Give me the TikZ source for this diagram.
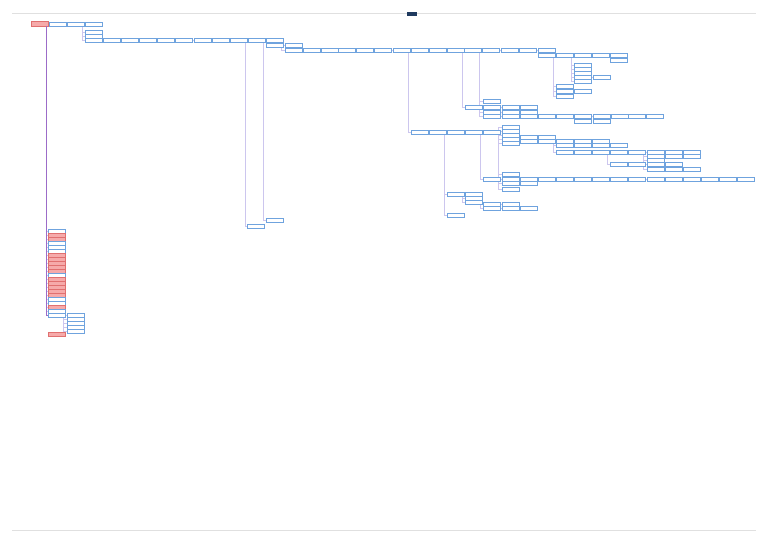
\documentclass[tikz,border=0pt]{standalone}
\usetikzlibrary{backgrounds}
\definecolor{boxblue}{HTML}{6FA3DE}
\definecolor{boxred}{HTML}{E07070}
\definecolor{fillred}{HTML}{F6AAAA}
\definecolor{edgecol}{HTML}{CCC6EE}
\definecolor{trunkcol}{HTML}{9C6CC8}
\definecolor{navy}{HTML}{1F3A5F}
\tikzset{
  bx/.style={draw=boxblue, fill=white, line width=0.75pt, minimum width=17pt, minimum height=4pt, inner sep=0pt, outer sep=0pt, anchor=north west},
  bxred/.style={bx, draw=boxred, fill=fillred},
  edge/.style={draw=edgecol, line width=0.5pt},
  trunk/.style={draw=trunkcol, line width=0.9pt},
  rule/.style={draw=black!12, line width=0.8pt}
}
\newcommand\bxn[3]{\node[bx] (#1) at (#2,#3) {};}
\newcommand\bxr[3]{\node[bxred] (#1) at (#2,#3) {};}
\newcommand\edH[2]{\begin{pgfonlayer}{background}\draw[edge] (#1.east) -- (#2.west);\end{pgfonlayer}}
\newcommand\edV[2]{\begin{pgfonlayer}{background}\draw[edge] ([xshift=-2pt]#1.south east) |- (#2.west);\end{pgfonlayer}}
\begin{document}
\begin{tikzpicture}[x=1pt,y=-1pt]
\useasboundingbox (0,0) rectangle (768,543);
\draw[rule] (12,13) -- (756,13);
\draw[rule] (12,530) -- (756,530);
\fill[navy] (407,12.4) rectangle (417,15.6);
% top chain
\node[bxred, minimum height=5pt] (R) at (31,21.5) {};
\bxn{a1}{49}{22}\bxn{a2}{67}{22}\bxn{a3}{85}{22}
\bxn{c1}{85}{30}\bxn{c2}{85}{34}\bxn{c3}{85}{38}
\edH{R}{a1}\edH{a1}{a2}\edH{a2}{a3}
\edV{a2}{c1}\edV{a2}{c2}\edV{a2}{c3}
% row 38
\foreach \x [count=\i] in {103,121,139,157,175,194,212,230,248,266} {\bxn{p\i}{\x}{38}}
\edH{c3}{p1}
\foreach \i [evaluate=\i as \j using int(\i+1)] in {1,...,9} {\edH{p\i}{p\j}}
\bxn{q1}{247}{224}\bxn{q2}{266}{218}
\edV{p8}{q1}\edV{p9}{q2}
\bxn{s0}{266}{43}\bxn{s1}{285}{43}
\edH{s0}{s1}
% row 48
\foreach \x [count=\i] in {285,303,321,338,356,374,393,411,429,447,464,482,501,519,538} {\bxn{t\i}{\x}{48}}
\edV{s0}{t1}
\foreach \i [evaluate=\i as \j using int(\i+1)] in {1,...,14} {\edH{t\i}{t\j}}
\bxn{u1}{538}{53}\bxn{u2}{556}{53}\bxn{u3}{574}{53}\bxn{u4}{592}{53}\bxn{u5}{610}{53}\bxn{u6}{610}{58}
\edH{u1}{u2}\edH{u2}{u3}\edH{u3}{u4}\edH{u4}{u5}
\bxn{v1}{556}{84}\bxn{v2}{556}{89}\bxn{v3}{556}{94}\bxn{v4}{574}{89}
\edV{u1}{v1}\edV{u1}{v2}\edV{u1}{v3}\edH{v2}{v4}
\foreach \y [count=\i] in {63,67,71,75,79} {\bxn{w\i}{574}{\y}\edV{u2}{w\i}}
\bxn{w6}{593}{75}\edH{w4}{w6}
% middle group
\bxn{x1}{465}{105}\bxn{x2}{483}{105}\bxn{x3}{502}{105}\bxn{x4}{520}{105}
\edV{t10}{x1}\edH{x1}{x2}\edH{x2}{x3}\edH{x3}{x4}
\bxn{y0}{483}{99}\bxn{y2}{483}{110}\bxn{y2b}{502}{110}\bxn{y2c}{520}{110}\bxn{y3}{483}{114}
\edV{t11}{y0}\edV{t11}{y2}\edV{t11}{y3}\edH{y2}{y2b}\edH{y2b}{y2c}
\foreach \x [count=\i] in {502,520,538,556,574,593,611,628,646} {\bxn{z\i}{\x}{114}}
\edH{y3}{z1}
\foreach \i [evaluate=\i as \j using int(\i+1)] in {1,...,8} {\edH{z\i}{z\j}}
\bxn{zz1}{574}{119}\bxn{zz2}{593}{119}
% row 130
\foreach \x [count=\i] in {411,429,447,465,483} {\bxn{n\i}{\x}{130}}
\edV{t7}{n1}
\foreach \i [evaluate=\i as \j using int(\i+1)] in {1,...,4} {\edH{n\i}{n\j}}
\foreach \y [count=\i] in {125,129,133,137,141} {\bxn{g\i}{502}{\y}\edV{n5}{g\i}}
\bxn{g6}{502}{172}\bxn{g7}{502}{187}
\edV{n5}{g6}\edV{n5}{g7}
\bxn{h1}{520}{135}\bxn{h2}{538}{135}
\edH{g3}{h1}\edH{h1}{h2}
\foreach \x [count=\i] in {520,538,556,574,592} {\bxn{hh\i}{\x}{139}}
\edH{g4}{hh1}
\foreach \i [evaluate=\i as \j using int(\i+1)] in {1,...,4} {\edH{hh\i}{hh\j}}
\bxn{k1}{556}{143}\bxn{k2}{556}{150}
\edV{hh2}{k1}\edV{hh2}{k2}
\bxn{k3}{574}{143}\bxn{k4}{592}{143}\bxn{k5}{610}{143}
\edH{k1}{k3}\edH{k3}{k4}\edH{k4}{k5}
\foreach \x [count=\i] in {574,592,610,628,647,665,683} {\bxn{m\i}{\x}{150}}
\edH{k2}{m1}
\foreach \i [evaluate=\i as \j using int(\i+1)] in {1,...,6} {\edH{m\i}{m\j}}
\bxn{o1}{610}{162}\bxn{o2}{628}{162}
\edV{m2}{o1}\edH{o1}{o2}
\bxn{o3}{647}{154}\bxn{o4}{647}{158}\bxn{o5}{647}{162}\bxn{o6}{647}{167}
\edV{m4}{o3}\edV{m4}{o4}\edV{m4}{o5}\edV{m4}{o6}
\bxn{o7}{665}{154}\bxn{o8}{683}{154}\bxn{o9}{665}{162}\bxn{o10}{665}{167}\bxn{o11}{683}{167}
\edH{o3}{o7}\edH{o7}{o8}\edH{o5}{o9}\edH{o6}{o10}\edH{o10}{o11}
% row 177
\foreach \x [count=\i] in {483,502,520,538,556,574,592,610,628,647,665,683,701,719,737} {\bxn{r\i}{\x}{177}}
\edV{n4}{r1}
\foreach \i [evaluate=\i as \j using int(\i+1)] in {1,...,14} {\edH{r\i}{r\j}}
\bxn{f1}{502}{181}\bxn{f2}{520}{181}
\edV{r1}{f1}\edH{f1}{f2}
% lower group
\bxn{d1}{447}{192}\bxn{d2}{447}{213}\bxn{d3}{465}{192}\bxn{d4}{465}{196}\bxn{d5}{465}{200}
\edV{n2}{d1}\edV{n2}{d2}\edH{d1}{d3}\edV{d1}{d4}\edV{d1}{d5}
\bxn{e1}{483}{202}\bxn{e2}{483}{206}\bxn{e3}{502}{202}\bxn{e4}{502}{206}\bxn{e5}{520}{206}
\edV{d4}{e1}\edV{d4}{e2}\edH{e1}{e3}\edH{e2}{e4}\edH{e4}{e5}
% left column
\foreach \y/\c [count=\i] in {229/w,233/r,237/r,241/w,245/w,249/w,253/r,257/r,261/r,265/r,269/r,273/w,277/r,281/r,285/r,289/r,293/r,297/w,301/w,305/r,309/w,313/w} {
  \if\c r\bxr{L\i}{48}{\y}\else\bxn{L\i}{48}{\y}\fi
  \edV{R}{L\i}
}
\draw[trunk] ([xshift=-2pt]R.south east) |- (L22.west);
\foreach \y [count=\i] in {313,317,321,325,329} {\bxn{M\i}{67}{\y}\edV{L22}{M\i}}
\bxr{N}{48}{332}
\end{tikzpicture}
\end{document}
